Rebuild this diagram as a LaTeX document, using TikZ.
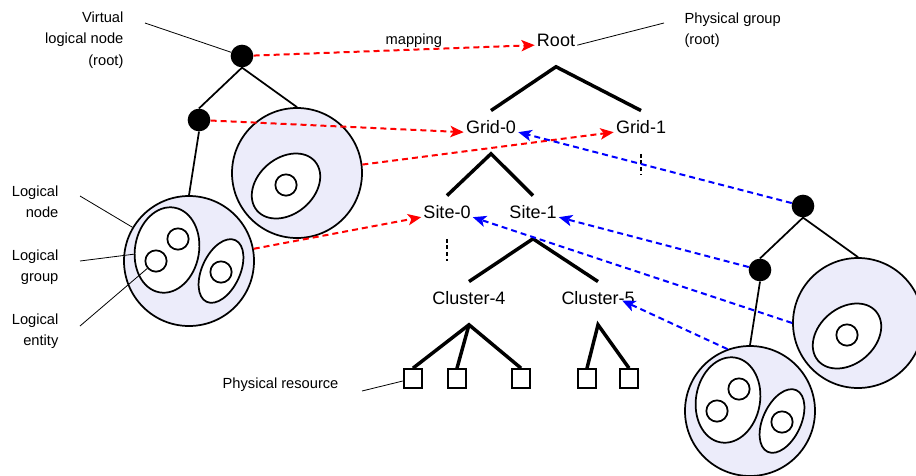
\documentclass[tikz,border=0pt]{standalone}
\usepackage{fontspec}
\setmainfont{Liberation Sans}
\usepackage{tikz}
\usetikzlibrary{arrows.meta,shapes.geometric}
\usepackage{xcolor}

\definecolor{lfill}{RGB}{236,236,250}

\tikzset{
  vdot/.style={circle,fill=black,inner sep=0pt,minimum size=17pt},
  lcircle/.style={circle,draw,line width=1.3pt,fill=lfill,inner sep=0pt,minimum size=97.5pt},
  lgroup/.style={ellipse,draw,line width=1.3pt,fill=white,inner sep=0pt},
  lentity/.style={circle,draw,line width=1.3pt,fill=white,inner sep=0pt,minimum size=16pt},
  ledge/.style={line width=1.3pt},
  plabel/.style={font=\fontsize{13.5}{16}\selectfont,inner xsep=1.5pt,inner ysep=0pt,text height=17pt,text depth=15pt,anchor=base},
  pedge/.style={line width=2.6pt},
  pres/.style={draw,line width=1.5pt,inner sep=0pt,minimum size=14pt},
  note/.style={font=\fontsize{11}{16}\selectfont,inner sep=1pt,text=black},
  lead/.style={line width=0.6pt},
  cont/.style={line width=1pt,dash pattern=on 3pt off 2pt},
  mapred/.style={red,line width=1.5pt,dash pattern=on 4.5pt off 3pt,-{Stealth[length=10pt,width=8.5pt,inset=2.5pt]}},
  mapblue/.style={mapred,blue},
  lognode/.pic={
    %Shape: logical nodes and groups (y up inside the pic)
    \node[vdot] (-root) at (0,0) {};
    \node[vdot] (-sub) at (-43,-64) {};
    \node[lcircle] (-a) at (55,-117) {};
    \node[lcircle] (-b) at (-53,-205) {};
    \node[lgroup,minimum width=57pt,minimum height=42pt,rotate=40] (-ga) at (44,-130) {};
    \node[lentity] (-ea) at (44,-129) {};
    \node[lgroup,minimum width=48pt,minimum height=64.5pt,rotate=-10] (-g1) at (-75,-194) {};
    \node[lentity] (-e1) at (-64,-183) {};
    \node[lentity] (-e2) at (-86,-205) {};
    \node[lgroup,minimum width=51pt,minimum height=28.5pt,rotate=65] (-g2) at (-21,-215) {};
    \node[lentity] (-e3) at (-21,-216) {};
    \draw[ledge] (-sub.north) -- (-root.south) -- (-a.north);
    \draw[ledge] (-sub.south) -- (-b.north);
  }
}

\begin{document}
\begin{tikzpicture}[x=0.75pt,y=0.75pt,yscale=-1,xscale=1]
\useasboundingbox (0,0) rectangle (916,475);

% Logical trees
\pic (L) at (242,56) {lognode};
\pic (R) at (803,206) {lognode};

% Physical tree
\node[plabel] (root) at (556,46.5) {Root};
\node[plabel] (grid0) at (491,133.5) {Grid-0};
\node[plabel] (grid1) at (641,133.5) {Grid-1};
\node[plabel] (site0) at (447,218.5) {Site-0};
\node[plabel] (site1) at (533,218.5) {Site-1};
\node[plabel] (clus4) at (469,304.5) {Cluster-4};
\node[plabel] (clus5) at (598,304.5) {Cluster-5};
\node[pres] (res1) at (413,378.5) {};
\node[pres] (res2) at (457,378.5) {};
\node[pres] (res3) at (521,378.5) {};
\node[pres] (res4) at (587,378.5) {};
\node[pres] (res5) at (629,378.5) {};

\draw[pedge] (grid0.north) -- (root.south) -- (grid1.north);
\draw[pedge] (site0.north) -- (grid0.south) -- (site1.north);
\draw[pedge] (clus4.north) -- (site1.south) -- (clus5.north);
\draw[pedge] (res1.north) -- (clus4.south) -- (res3.north);
\draw[pedge] (clus4.south) -- (res2.north);
\draw[pedge] (res4.north) -- (clus5.south) -- (res5.north);
\draw[cont] (grid1.south) -- ++(0,21);
\draw[cont] (site0.south) -- ++(0,22);

% Mappings
\draw[mapred] (L-root) -- node[note,above,pos=.57] (maplab) {mapping} (root.west);
\draw[mapred] (L-sub) -- (grid0.west);
\draw[mapred] (L-a) -- (grid1.west);
\draw[mapred] (L-b) -- (site0.west);
\draw[mapblue] (R-root) -- (grid0.east);
\draw[mapblue] (R-sub) -- (site1.east);
\draw[mapblue] (R-a.west) -- (site0.east);
\draw[mapblue] (R-b.110) -- ([shift={(-11pt,-2pt)}]clus5.east);

% Text Node
\node[note,align=right,anchor=east] (vlab) at (125,40) {Virtual\\logical node\\(root)};
\coordinate (vlabend) at (145,23);
\draw[lead] (vlabend) -- (L-root);
% Text Node
\node[note,align=right,anchor=east] (lnlab) at (60,202) {Logical\\node};
\coordinate (lnend) at (80,196);
\draw[lead] (lnend) -- (L-b);
% Text Node
\node[note,align=right,anchor=east] (lglab) at (60,267) {Logical\\group};
\coordinate (lgend) at (80,261);
\draw[lead] (lgend) -- (L-g1);
% Text Node
\node[note,align=right,anchor=east] (lelab) at (60,331.5) {Logical\\entity};
\coordinate (leend) at (80,326);
\draw[lead] (leend) -- (L-e2);
% Text Node
\node[note,anchor=east] (prlab) at (340,385) {Physical resource};
\coordinate (prend) at (362,391);
\draw[lead] (prend) -- (res1);
% Text Node
\node[note,align=left,anchor=west] (pglab) at (683,30) {Physical group\\(root)};
\coordinate (pgend) at (664,23);
\draw[lead] (root.east) -- (pgend);

\end{tikzpicture}
\end{document}
